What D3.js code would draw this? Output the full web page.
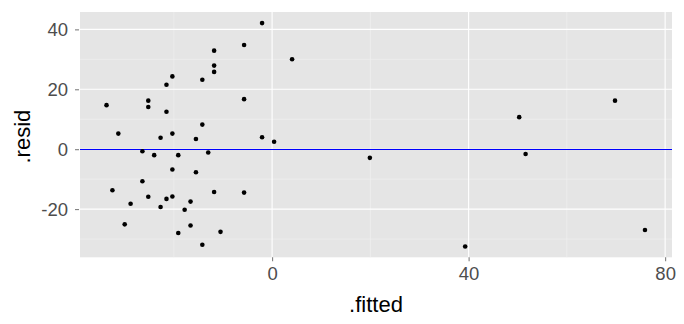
<!DOCTYPE html>
<html>
<head>
<meta charset="utf-8">
<script src="https://cdn.jsdelivr.net/npm/d3@7"></script>
<style>
  html, body { margin: 0; padding: 0; background: #fff; }
  text { font-family: "Liberation Sans", Arial, sans-serif; }
</style>
</head>
<body>
<svg id="chart" width="684" height="324"></svg>
<script>
// Data
const fitted = [-2.04, -5.7, -11.8, 4.07, -11.8, -11.8, -20.3, -14.2, -21.5, -25.2,
  -5.7, -33.7, -25.2, -21.5, -14.2, -31.3, -20.3, -22.7, -15.5, -2.04,
  0.41, -26.4, -24.0, -19.1, -13.0, -20.3, -15.5, -26.4, -32.5, -11.8,
  -5.7, -25.2, -20.3, -21.5, -16.6, -28.8, -22.7, -17.8, -30.0, -16.6,
  -10.5, -19.1, -14.2, 19.9, 39.3, 50.3, 51.6, 69.8, 75.9];
const resid = [42.1, 34.8, 32.9, 30.0, 27.9, 25.8, 24.3, 23.2, 21.5, 16.2,
  16.7, 14.7, 14.1, 12.5, 8.2, 5.2, 5.2, 3.8, 3.4, 4.0,
  2.5, -0.7, -2.0, -2.0, -1.1, -6.8, -7.7, -10.7, -13.7, -14.3,
  -14.5, -15.9, -15.8, -16.6, -17.5, -18.2, -19.3, -20.2, -25.1, -25.5,
  -27.6, -28.0, -31.9, -2.9, -32.5, 10.7, -1.6, 16.2, -27.0];
const xTicks = [0, 40, 80];
const xMinor = [-20, 20, 60];
const yTicks = [-20, 0, 20, 40];
const yMinor = [-30, -10, 10, 30];
const xDomain = [-39.1, 81.4];
const yDomain = [-36.1, 45.8];

const svg = d3.select("#chart");
const panel = { left: 80, right: 672, top: 12, bottom: 257.3 };

const x = d3.scaleLinear().domain(xDomain).range([panel.left, panel.right]);
const y = d3.scaleLinear().domain(yDomain).range([panel.bottom, panel.top]);

// panel background
svg.append("rect")
  .attr("x", panel.left).attr("y", panel.top)
  .attr("width", panel.right - panel.left)
  .attr("height", panel.bottom - panel.top)
  .attr("fill", "#e5e5e5");

const grid = svg.append("g");
// minor grid
grid.selectAll(".xmin").data(xMinor).join("line")
  .attr("x1", d => x(d)).attr("x2", d => x(d))
  .attr("y1", panel.top).attr("y2", panel.bottom)
  .attr("stroke", "#f2f2f2").attr("stroke-width", 0.6);
grid.selectAll(".ymin").data(yMinor).join("line")
  .attr("y1", d => y(d)).attr("y2", d => y(d))
  .attr("x1", panel.left).attr("x2", panel.right)
  .attr("stroke", "#f2f2f2").attr("stroke-width", 0.6);
// major grid
grid.selectAll(".xmaj").data(xTicks).join("line")
  .attr("x1", d => x(d)).attr("x2", d => x(d))
  .attr("y1", panel.top).attr("y2", panel.bottom)
  .attr("stroke", "#ffffff").attr("stroke-width", 1.1);
grid.selectAll(".ymaj").data(yTicks).join("line")
  .attr("y1", d => y(d)).attr("y2", d => y(d))
  .attr("x1", panel.left).attr("x2", panel.right)
  .attr("stroke", "#ffffff").attr("stroke-width", 1.1);

// zero line (snapped to pixel row)
const y0 = Math.floor(y(0)) + 0.5;
svg.append("line")
  .attr("x1", panel.left).attr("x2", panel.right)
  .attr("y1", y0).attr("y2", y0)
  .attr("stroke", "#0000ff").attr("stroke-width", 1);

// points
svg.append("g").selectAll("circle")
  .data(fitted.map((f, i) => ({ f, r: resid[i] })))
  .join("circle")
  .attr("cx", d => x(d.f))
  .attr("cy", d => y(d.r))
  .attr("r", 2.3)
  .attr("fill", "#000");

const fmt = d => String(d);

// axes
const xAxis = d3.axisBottom(x).tickValues(xTicks).tickSize(4).tickPadding(6).tickFormat(fmt);
const gx = svg.append("g").attr("transform", `translate(0,${panel.bottom})`).call(xAxis);
gx.select(".domain").remove();
gx.selectAll(".tick line").attr("stroke", "#7f7f7f").attr("stroke-width", 1.1);
gx.selectAll(".tick text").attr("fill", "#4d4d4d").attr("font-size", 18.5)
  .attr("font-family", "Liberation Sans, Arial, sans-serif");

const yAxis = d3.axisLeft(y).tickValues(yTicks).tickSize(4).tickPadding(7).tickFormat(fmt);
const gy = svg.append("g").attr("transform", `translate(${panel.left - 1},0)`).call(yAxis);
gy.select(".domain").remove();
gy.selectAll(".tick line").attr("stroke", "#7f7f7f").attr("stroke-width", 1.1);
gy.selectAll(".tick text").attr("fill", "#4d4d4d").attr("font-size", 18.5)
  .attr("font-family", "Liberation Sans, Arial, sans-serif");

// axis titles
svg.append("text")
  .attr("x", (panel.left + panel.right) / 2)
  .attr("y", 311.5)
  .attr("text-anchor", "middle")
  .attr("font-size", 22)
  .attr("fill", "#000")
  .text(".fitted");

svg.append("text")
  .attr("transform", `translate(30,${(panel.top + panel.bottom) / 2 + 2}) rotate(-90)`)
  .attr("text-anchor", "middle")
  .attr("font-size", 22)
  .attr("fill", "#000")
  .text(".resid");
</script>
</body>
</html>
